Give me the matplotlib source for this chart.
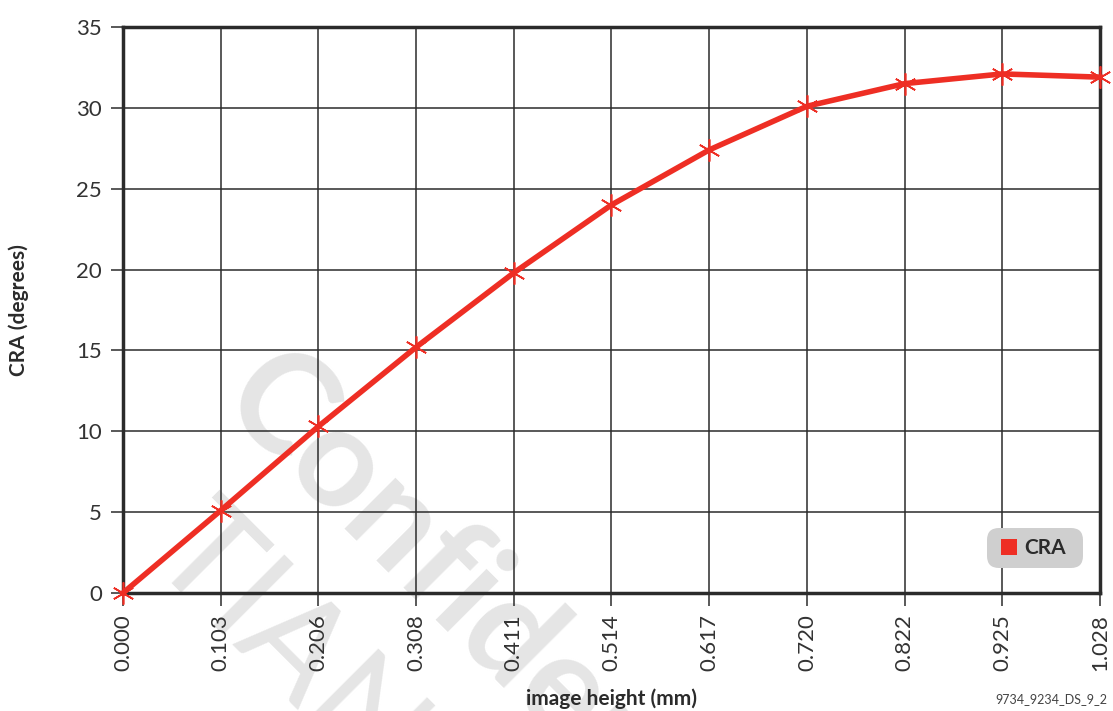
import matplotlib
matplotlib.use("Agg")
from matplotlib import pyplot as plt
from matplotlib.patches import FancyBboxPatch, Rectangle
import numpy as np

# data
heights = ['0.000', '0.103', '0.206', '0.308', '0.411', '0.514',
           '0.617', '0.720', '0.822', '0.925', '1.028']
cra = [0.0, 5.1, 10.3, 15.2, 19.8, 24.0, 27.4, 30.1, 31.5, 32.1, 31.9]

red = '#ee2e24'
dark = '#2b2b2b'

plt.rcParams['font.family'] = ['Lato', 'DejaVu Sans']

fig = plt.figure(figsize=(11.13, 7.11), dpi=100)
ax = fig.add_axes([0.1105, 0.166, 0.8778, 0.796])
ax.set_facecolor('none')

# watermark (behind everything)
fig.text(215 / 1113, 1 - 405 / 711, 'Confidential', fontsize=100,
         fontweight='bold', color='#e5e5e5', rotation=-45,
         rotation_mode='anchor', ha='left', va='baseline', zorder=-1)
fig.text(146 / 1113, 1 - 560 / 711, 'TIANMA', fontsize=100,
         color='#e5e5e5', rotation=-45, rotation_mode='anchor',
         ha='left', va='baseline', zorder=-1)

xs = np.arange(len(heights))
ax.plot(xs, cra, color=red, lw=4, marker=(6, 2, 0), ms=16, mew=1.2,
        mec=red, clip_on=False, zorder=5)

ax.set_xlim(0, len(heights) - 1)
ax.set_ylim(0, 35)
ax.set_xticks(xs)
ax.set_xticklabels(heights, rotation=90)
ax.set_yticks(np.arange(0, 36, 5))
ax.grid(True, color=dark, lw=1.1)
ax.set_axisbelow(True)
for s in ax.spines.values():
    s.set_color(dark)
    s.set_linewidth(2.5)
ax.tick_params(direction='out', length=9, width=1.1, color=dark,
               labelsize=16, labelcolor='#333333', pad=6)

ax.set_xlabel('image height (mm)', fontsize=15, fontweight='bold',
              color=dark)
ax.set_ylabel('CRA (degrees)', fontsize=15, fontweight='bold',
              color=dark)
ax.xaxis.set_label_coords(0.5, -0.168)
ax.yaxis.set_label_coords(-0.096, 0.5)

# legend box
box = FancyBboxPatch((987, 143), 96, 40, boxstyle='round,pad=0,rounding_size=12',
                     transform=None, facecolor='#cfcfcf', edgecolor='none', zorder=6)
fig.patches.append(box)
fig.patches.append(Rectangle((1001, 156), 16, 16, transform=None,
                             facecolor=red, edgecolor='none', zorder=7))
fig.text(1024 / 1113, 163 / 711, 'CRA', fontsize=15, fontweight='bold',
         color=dark, va='center', ha='left', zorder=8)

fig.text(0.995, 0.008, '9734_9234_DS_9_2', fontsize=9, color='#444444',
         ha='right', va='bottom')

fig.savefig('out.png', dpi=100)
